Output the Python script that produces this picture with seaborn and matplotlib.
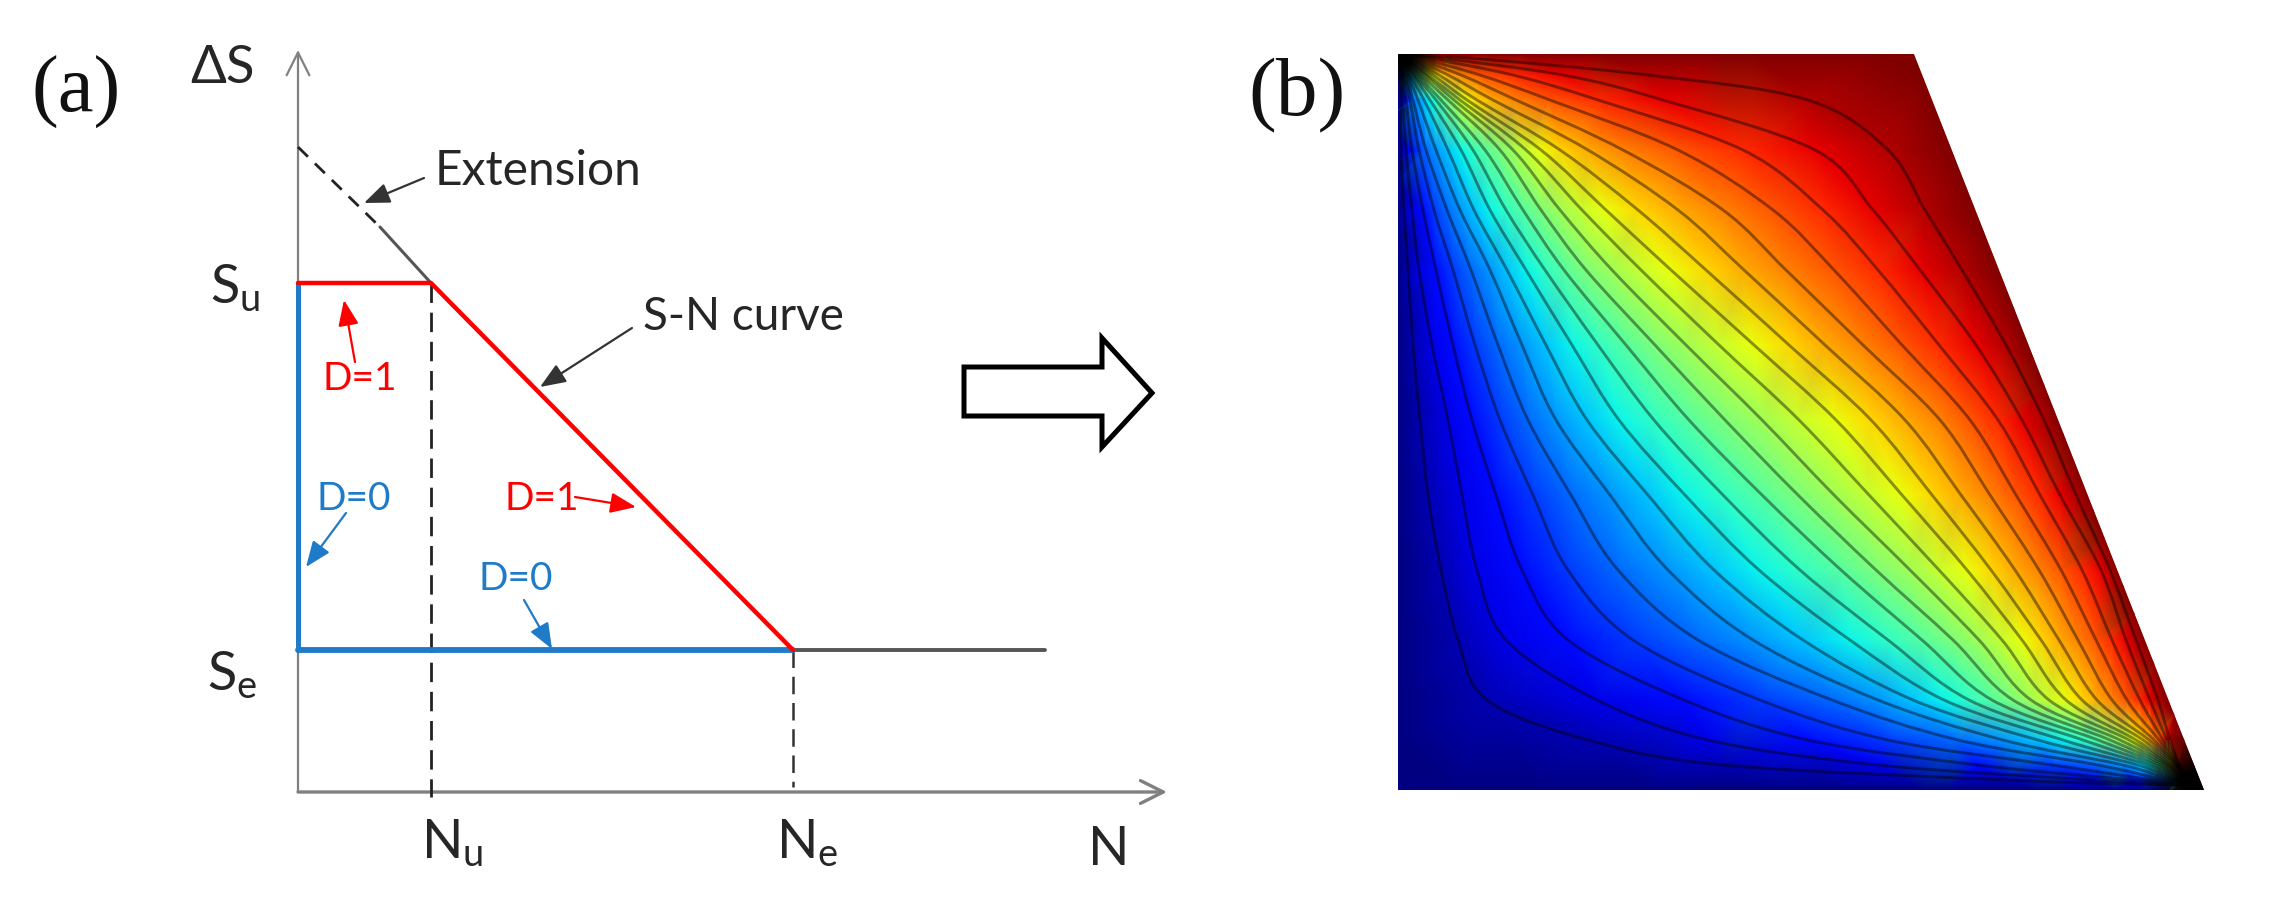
import numpy as np
import matplotlib
matplotlib.use("Agg")
import matplotlib.pyplot as plt
import matplotlib.tri as mtri
from matplotlib.patches import PathPatch, Polygon
from matplotlib.path import Path
import seaborn as sns

sns.set_style("white")
plt.rcParams['font.family'] = ['Lato', 'DejaVu Sans']

W, H = 2270, 898

# S-N diagram values
N_u, N_e, N_end, N_max = 13.3, 49.5, 74.7, 86.9
S_u, S_e, S_ext, S_max = 50.9, 14.2, 64.5, 74.2
N_kink, S_kink = 8.2, 56.5

# panel b: x of each contour line at a given height
row_y = [58, 75, 100, 150, 210, 270, 345, 420, 495, 570, 640, 700, 740, 765, 780]
x_y58 = [2.5, 2.8, 3.1, 3.4, 3.8, 4.2, 4.6, 5, 5.5, 6, 6.5, 7, 7.6, 8.6, 10, 12, 15, 20, 28, 40, 70]
x_y75 = [3, 4, 5, 6, 8, 10, 12, 15, 17, 20, 23, 27, 30, 35, 41, 50, 63, 82, 115, 165, 250]
x_y100 = [3, 5, 8, 12, 15, 20, 26, 32, 38, 43, 50, 56, 62, 69, 79, 95, 118, 152, 200, 265, 410]
x_y150 = [3, 8, 14, 21, 28, 38, 50, 63, 75, 87, 102, 115, 128, 143, 162, 190, 225, 280, 345, 417, 490]
x_y210 = [6, 14, 25, 36, 49, 62, 76, 92, 108, 125, 143, 162, 184, 208, 240, 280, 325, 375, 425, 475, 527]
x_y270 = [10, 21, 38, 55, 73, 92, 109, 128, 147, 166, 188, 214, 243, 273, 308, 346, 388, 436, 480, 522, 564]
x_y345 = [15, 34, 55, 77, 100, 124, 148, 174, 200, 228, 257, 288, 321, 356, 391, 427, 465, 504, 541, 578, 608]
x_y420 = [22, 50, 74, 102, 130, 158, 189, 221, 256, 291, 327, 364, 401, 438, 473, 507, 542, 572, 600, 624, 646]
x_y495 = [30, 64, 98, 135, 173, 212, 250, 287, 325, 364, 400, 436, 471, 504, 534, 563, 592, 618, 642, 662, 678]
x_y570 = [43, 79, 124, 170, 220, 270, 316, 361, 402, 443, 478, 512, 541, 569, 593, 617, 641, 663, 684, 703, 712]
x_y640 = [60, 108, 170, 235, 300, 355, 405, 452, 490, 524, 555, 581, 604, 624, 643, 661, 680, 698, 714, 728, 738]
x_y700 = [89, 199, 286, 362, 434, 480, 515, 546, 571, 594, 615, 633, 651, 668, 684, 699, 714, 729, 742, 752, 760]
x_y740 = [190, 310, 410, 490, 560, 605, 640, 665, 685, 700, 712, 722, 731, 738, 745, 751, 756, 761, 765, 769, 772]
x_y765 = [325, 480, 580, 655, 700, 725, 740, 750, 757, 762, 766, 769, 771, 773, 775, 777, 778, 779, 780, 781, 782]
x_y780 = [610, 695, 735, 755, 767, 773, 776, 778, 780, 781, 782, 783, 784, 785, 786, 787, 788, 789, 790, 791, 792]

contour_x = np.array([x_y58, x_y75, x_y100, x_y150, x_y210, x_y270, x_y345, x_y420,
                      x_y495, x_y570, x_y640, x_y700, x_y740, x_y765, x_y780], dtype=float)
n_lines = contour_x.shape[1]
levels = np.arange(1, n_lines + 1) / (n_lines + 1)

RED = "#ff0000"
BLUE = "#1f7ac8"
GREY = "#808080"
DARK = "#555555"
TXT = "#262626"

fig = plt.figure(figsize=(W / 100, H / 100), dpi=100, facecolor="white")
ax = fig.add_axes([298 / W, 1 - 792 / H, 869 / W, 742 / H])
ax.set_xlim(0, N_max)
ax.set_ylim(0, S_max)
ax.set_axis_off()


def line(xs, ys, color, lw, ls="-", z=3):
    sns.lineplot(x=xs, y=ys, ax=ax, color=color, lw=lw, linestyle=ls, estimator=None,
                 sort=False, legend=False, clip_on=False, zorder=z)


def arrow(start, end, color, lw=1.6, style="-|>,head_length=0.6,head_width=0.24", ms=26):
    ax.annotate("", xy=end, xytext=start,
                arrowprops=dict(arrowstyle=style, color=color, lw=lw, shrinkA=0, shrinkB=0,
                                mutation_scale=ms), annotation_clip=False)


# axes
arrow((0, 0), (0, S_max), GREY, 1.6, "->", 41)
arrow((0, 0), (N_max, 0), GREY, 2.4, "->", 41)

# guide lines
dash = (0, (7, 3.5))
line([N_u, N_u], [S_u, -0.5], "#222222", 2.0, dash)
line([N_e, N_e], [S_e, 0.5], "#333333", 1.8, dash)
line([0, N_kink], [S_ext, S_kink], "#222222", 2.0, (0, (5, 3.5)))
line([N_kink, N_u], [S_kink, S_u], DARK, 2.2)
line([N_e, N_end], [S_e, S_e], DARK, 2.8)

# damage bounds
line([0, 0], [S_u, S_e], BLUE, 3.6, z=4)
line([0, N_e], [S_e, S_e], BLUE, 4.2, z=4)
line([0, N_u, N_e], [S_u, S_u, S_e], RED, 3.2, z=5)

# labels
ax.text(-22.2, 70.0, "(a)", family="Liberation Serif", fontsize=58, color="#111111",
        ha="center", va="center")
ax.text(-10.8, 70.9, "ΔS", fontsize=38, color=TXT, ha="left", va="baseline")
ax.text(-8.8, 48.9, r"S$_{\mathregular{u}}$", fontsize=39, color=TXT, ha="left", va="baseline")
ax.text(-9.1, 10.2, r"S$_{\mathregular{e}}$", fontsize=39, color=TXT, ha="left", va="baseline")
ax.text(12.3, -6.6, r"N$_{\mathregular{u}}$", fontsize=39, color=TXT, ha="left", va="baseline")
ax.text(47.8, -6.6, r"N$_{\mathregular{e}}$", fontsize=39, color=TXT, ha="left", va="baseline")
ax.text(79.0, -7.3, "N", fontsize=39, color=TXT, ha="left", va="baseline")
ax.text(13.7, 60.7, "Extension", fontsize=34.5, color=TXT, ha="left", va="baseline")
ax.text(34.5, 46.2, "S-N curve", fontsize=33, color=TXT, ha="left", va="baseline")
ax.text(2.4, 40.2, "D=1", fontsize=28, color=RED, ha="left", va="baseline")
ax.text(1.9, 28.2, "D=0", fontsize=28, color=BLUE, ha="left", va="baseline")
ax.text(20.7, 28.2, "D=1", fontsize=28, color=RED, ha="left", va="baseline")
ax.text(18.0, 20.2, "D=0", fontsize=28, color=BLUE, ha="left", va="baseline")

# leader arrows
arrow((12.6, 61.4), (6.6, 58.9), "#333333")
arrow((33.4, 46.4), (24.2, 40.5), "#333333")
arrow((5.7, 43.0), (4.6, 49.2), RED)
arrow((4.8, 27.9), (0.8, 22.5), BLUE)
arrow((27.7, 29.5), (33.8, 28.5), RED)
arrow((22.6, 19.2), (25.4, 14.3), BLUE)

# block arrow between panels
ax.add_patch(Polygon([(66.6, 42.5), (80.4, 42.5), (80.4, 45.4), (85.4, 39.9), (80.4, 34.5),
                      (80.4, 37.6), (66.6, 37.6)], closed=True, fc="white", ec="black",
                     lw=3.6, joinstyle="miter", clip_on=False))

# panel b
bx = fig.add_axes([1398 / W, 1 - 790 / H, 806 / W, 736 / H])
top_w = 516
outline = Polygon([(0, 54), (top_w, 54), (806, 790), (0, 790)], closed=True, transform=bx.transData)

right_y = np.linspace(54, 790, 30)
right_x = top_w + (right_y - 54) * (806 - top_w) / (790 - 54)
top_x = np.linspace(6, top_w, 14)
left_y = np.linspace(60, 790, 30)
bottom_x = np.linspace(0, 800, 30)

pts_x = np.concatenate([contour_x.ravel(), right_x, top_x, np.zeros_like(left_y), bottom_x])
rows = np.repeat(row_y, n_lines).astype(float)
pts_y = np.concatenate([rows, right_y, np.full_like(top_x, 54), left_y, np.full_like(bottom_x, 790)])
field = np.concatenate([np.tile(levels, len(row_y)), np.ones_like(right_x), np.ones_like(top_x),
                        np.zeros_like(left_y), np.zeros_like(bottom_x)])

tri = mtri.Triangulation(pts_x, pts_y)
jet = plt.get_cmap("jet")
mesh = bx.tripcolor(tri, field, shading="gouraud", cmap=jet, vmin=0, vmax=1)
mesh.set_clip_path(outline)


def smooth_path(xs, ys):
    # Catmull-Rom through the points
    p = np.column_stack([xs, ys])
    q = np.vstack([p[0], p, p[-1]])
    verts = [p[0]]
    for i in range(1, len(q) - 2):
        verts.append(q[i] + (q[i + 1] - q[i - 1]) / 6)
        verts.append(q[i + 1] - (q[i + 2] - q[i]) / 6)
        verts.append(q[i + 1])
    codes = [Path.MOVETO] + [Path.CURVE4] * (len(verts) - 1)
    return Path(verts, codes)


for k in range(n_lines):
    xs = np.r_[3, contour_x[:, k], 796]
    ys = np.r_[55, row_y, 786]
    patch = PathPatch(smooth_path(xs, ys), fc="none", ec="black", lw=2.1, alpha=0.42)
    bx.add_patch(patch)
    patch.set_clip_path(outline)


def dark_corner(cx, cy, radius):
    # the lines merge into a black spot where they bunch up
    gx, gy = np.meshgrid(np.linspace(cx - radius, cx + radius, 80),
                         np.linspace(cy - radius, cy + radius, 80))
    r = np.hypot(gx - cx, gy - cy) / radius
    rgba = np.zeros(gx.shape + (4,))
    rgba[..., 3] = np.clip(1.25 * (1 - r), 0, 1)
    im = bx.imshow(rgba, extent=[cx - radius, cx + radius, cy + radius, cy - radius],
                   aspect="auto", zorder=5, interpolation="bilinear")
    im.set_clip_path(outline)


dark_corner(4, 58, 42)
dark_corner(796, 782, 55)

bx.set_xlim(0, 806)
bx.set_ylim(790, 54)
bx.set_axis_off()

bx.text(-101, 96, "(b)", family="Liberation Serif", fontsize=60, color="#111111",
        ha="center", va="center")

fig.savefig("out.png", dpi=100, facecolor="white")
